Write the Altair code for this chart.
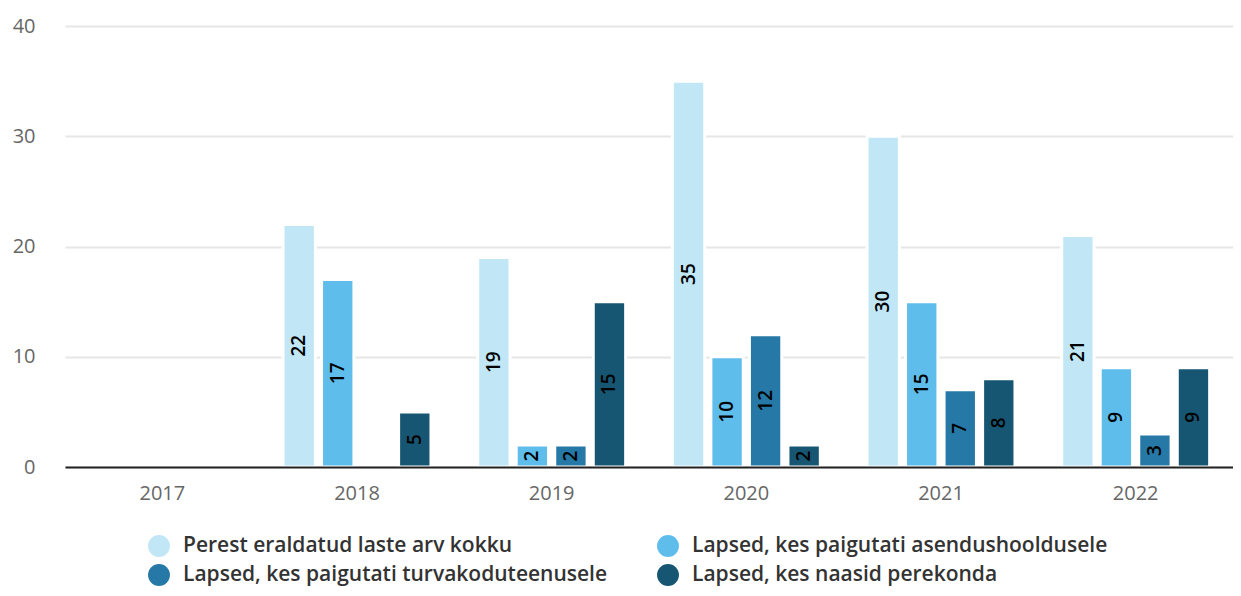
import altair as alt
import pandas as pd

years = ["2017", "2018", "2019", "2020", "2021", "2022"]
series = [
    "Perest eraldatud laste arv kokku",
    "Lapsed, kes paigutati asendushooldusele",
    "Lapsed, kes paigutati turvakoduteenusele",
    "Lapsed, kes naasid perekonda",
]
total = [None, 22, 19, 35, 30, 21]
asendus = [None, 17, 2, 10, 15, 9]
turva = [None, None, 2, 12, 7, 3]
naasid = [None, 5, 15, 2, 8, 9]
colors = ["#C1E7F7", "#5EBDEA", "#2678A6", "#165672"]
y_ticks = [0, 10, 20, 30, 40]

rows = []
for vals, s in zip([total, asendus, turva, naasid], series):
    for y, v in zip(years, vals):
        if v is not None:
            rows.append({"year": y, "series": s, "value": v})
df = pd.DataFrame(rows)

FONT = "Open Sans"

xscale = alt.Scale(domain=years, paddingInner=0.24, paddingOuter=0.12)
xaxis = alt.Axis(title=None, labelAngle=0, labelFontSize=20, labelColor="#666666",
                 labelPadding=16, ticks=False, domainColor="#222222", domainWidth=2,
                 grid=False, zindex=1, labelFont=FONT)
yscale = alt.Scale(domain=[0, 40], nice=False)
yaxis = alt.Axis(title=None, values=y_ticks, ticks=False, domain=False,
                 labelFontSize=20, labelColor="#666666", labelPadding=30,
                 gridColor="#E6E6E6", gridWidth=2, zindex=0, labelFont=FONT)
xo = alt.XOffset("series:N", scale=alt.Scale(domain=series, paddingInner=0.16, paddingOuter=0))

base = alt.Chart(df)

bars = base.mark_bar(stroke="white", strokeWidth=3).encode(
    x=alt.X("year:N", scale=xscale, axis=xaxis),
    xOffset=xo,
    y=alt.Y("value:Q", scale=yscale, axis=yaxis),
    color=alt.Color("series:N", scale=alt.Scale(domain=series, range=colors),
                    legend=alt.Legend(title=None, orient="none", legendX=83, legendY=509,
                                      columns=2, direction="horizontal",
                                      columnPadding=49, rowPadding=7,
                                      symbolType="circle", symbolSize=480, symbolStrokeWidth=0,
                                      symbolOpacity=1,
                                      labelFontSize=21, labelFont=FONT, labelFontWeight=600,
                                      labelColor="#333333", labelOffset=13, padding=0,
                                      labelLimit=700)),
)

labels = base.transform_calculate(mid="datum.value / 2").mark_text(
    angle=270, align="center", baseline="middle", fontSize=19, fontWeight=600,
    color="#000000", font=FONT
).encode(
    x=alt.X("year:N", scale=xscale, axis=xaxis),
    xOffset=xo,
    y=alt.Y("mid:Q", scale=yscale, axis=yaxis),
    text=alt.Text("value:Q"),
)

chart = alt.layer(bars, labels).properties(
    width=1168, height=441,
    autosize=alt.AutoSizeParams(type="none"),
    padding={"left": 57, "top": 18, "right": 0, "bottom": 121},
).configure(font=FONT).configure_view(stroke="transparent", strokeWidth=0)

chart.save("out.html", embed_options={"renderer": "svg", "actions": False})
